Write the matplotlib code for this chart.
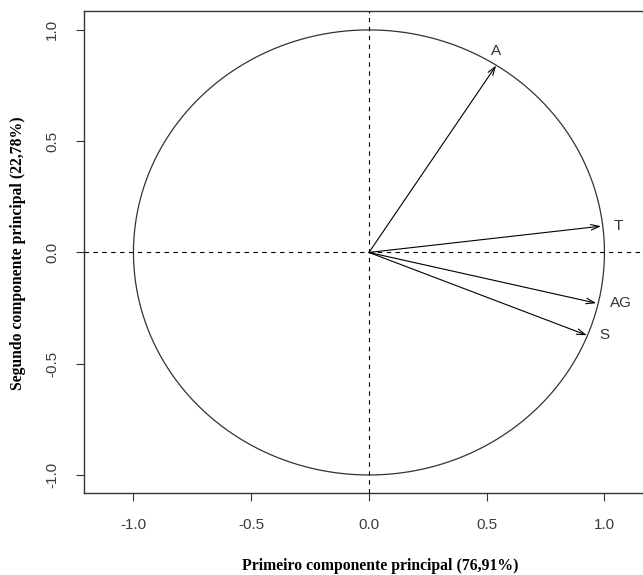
import numpy as np
import matplotlib
matplotlib.use("Agg")
import matplotlib.pyplot as plt

variables = ["A", "T", "AG", "S"]
pc1 = [0.54, 0.985, 0.965, 0.925]
pc2 = [0.84, 0.118, -0.228, -0.372]
label_x = [0.54, 1.06, 1.07, 1.00]
label_y = [0.905, 0.118, -0.228, -0.372]
ticks = [-1.0, -0.5, 0.0, 0.5, 1.0]
tick_labels = ["-1.0", "-0.5", "0.0", "0.5", "1.0"]
xlabel = "Primeiro componente principal (76,91%)"
ylabel = "Segundo componente principal (22,78%)"

fig = plt.figure(figsize=(6.43, 5.75), dpi=100)
W, H = 643, 575
left_px, top_px, bottom_px = 84, 11, 493
xl = (-1.21, 1.21)
yl = (-1.081, 1.085)
px_per_x = 235.5
width_px = (xl[1] - xl[0]) * px_per_x
ax = fig.add_axes([left_px / W, 1 - bottom_px / H, width_px / W, (bottom_px - top_px) / H])
ax.set_xlim(*xl)
ax.set_ylim(*yl)

theta = np.linspace(0, 2 * np.pi, 400)
ax.plot(np.cos(theta), np.sin(theta), color="#333333", lw=0.9)
ax.axhline(0, color="black", lw=0.8, ls=(0, (4, 4)))
ax.axvline(0, color="black", lw=0.8, ls=(0, (4, 4)))

for v, x, y, lx, ly in zip(variables, pc1, pc2, label_x, label_y):
    ax.annotate("", xy=(x, y), xytext=(0, 0),
                arrowprops=dict(arrowstyle="->,head_length=0.6,head_width=0.2",
                                color="black", lw=0.8, shrinkA=0, shrinkB=0))
    ax.text(lx, ly, v, ha="center", va="center", fontsize=11,
            color="#333333", family="Liberation Sans")

ax.set_xticks(ticks)
ax.set_xticklabels(tick_labels)
ax.set_yticks(ticks)
ax.set_yticklabels(tick_labels, rotation=90, va="center")
ax.tick_params(direction="out", length=6, width=0.8, colors="#333333",
               labelsize=11, pad=12)
for lab in ax.get_xticklabels() + ax.get_yticklabels():
    lab.set_family("Liberation Sans")
    lab.set_color("#3a3a44")
for s in ["left", "bottom", "top", "right"]:
    ax.spines[s].set_linewidth(1.0)
    ax.spines[s].set_color("#333333")

fig.text(380 / W, 1 - 566 / H, xlabel, ha="center", va="center",
         fontsize=11.3, fontweight="bold", family="Liberation Serif")
fig.text(18 / W, 1 - 253 / H, ylabel, ha="center", va="center", rotation=90,
         fontsize=11.3, fontweight="bold", family="Liberation Serif")

fig.savefig("out.png", dpi=100)
